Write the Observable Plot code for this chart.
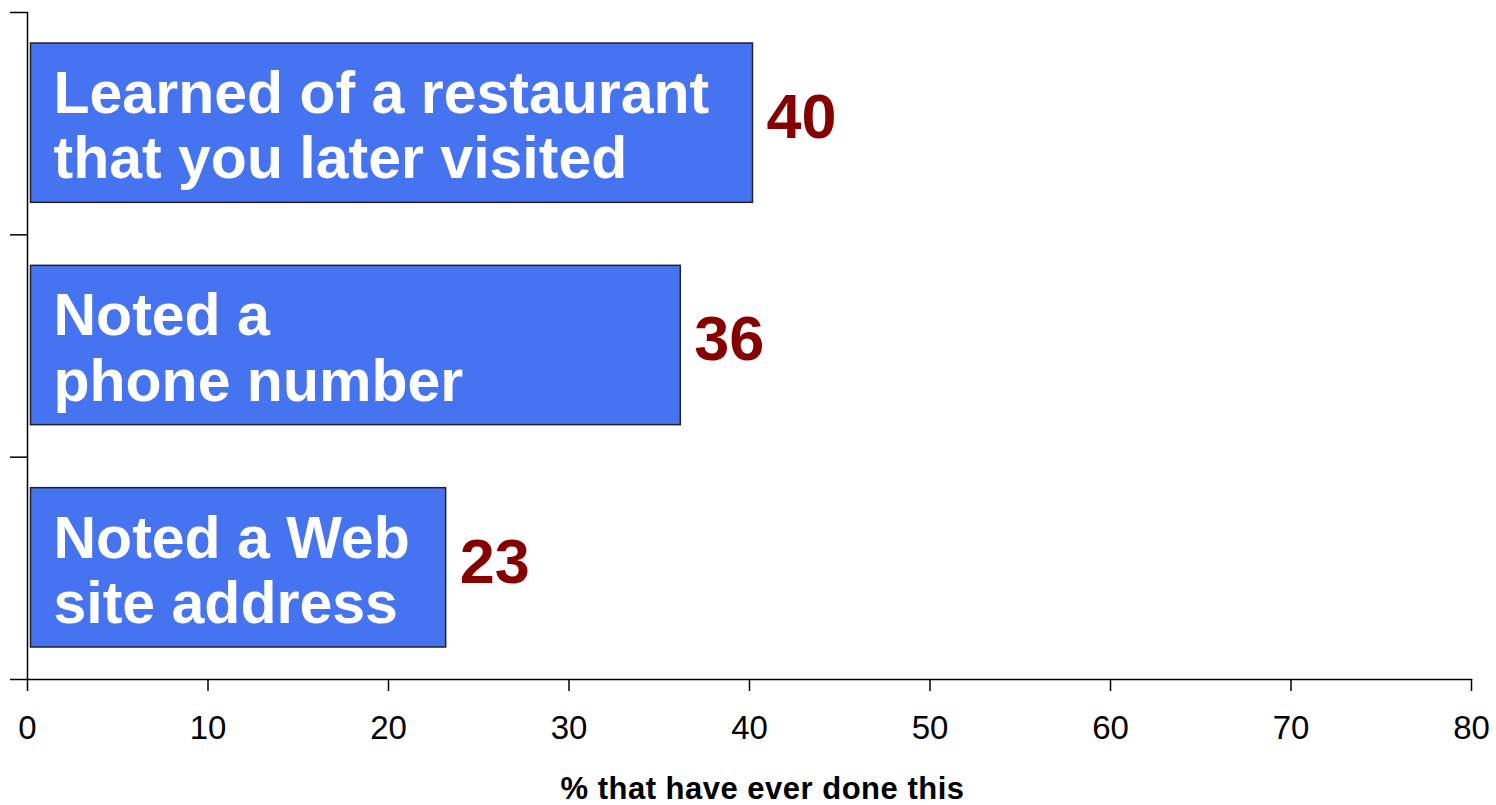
<!DOCTYPE html>
<html>
<head>
<meta charset="utf-8">
<script src="https://cdn.jsdelivr.net/npm/d3@7"></script>
<script src="https://cdn.jsdelivr.net/npm/@observablehq/plot@0.6"></script>
<style>
  html, body { margin: 0; padding: 0; background: white; }
  #chart svg [aria-label="x-axis label"] text { font-weight: bold; font-size: 31px; letter-spacing: 0.5px; }
  #chart svg [aria-label="x-axis label"] { translate: 13px 0; }
</style>
</head>
<body>
<div id="chart"></div>
<script>
const categories = [
  "Learned of a restaurant\nthat you later visited",
  "Noted a\nphone number",
  "Noted a Web\nsite address"
];
const values = [40, 36, 23];
const xTicks = [0, 10, 20, 30, 40, 50, 60, 70, 80];
const slotEdges = [0, 1, 2, 3];
const xTitle = "% that have ever done this";

const rows = categories.map((c, i) => ({label: c, value: values[i], slot: i}));

const chart = Plot.plot({
  width: 1496,
  height: 805,
  marginLeft: 27,
  marginRight: 25,
  marginTop: 12,
  marginBottom: 126,
  style: {fontFamily: "'Liberation Sans', Arial, sans-serif", background: "white", color: "black"},
  x: {domain: [0, 80]},
  y: {domain: [0, 3], reverse: true},
  marks: [
    Plot.rectX(rows, {
      x1: 0, x2: "value",
      y1: d => d.slot, y2: d => d.slot + 1,
      insetTop: 31, insetBottom: 32,
      dx: 3.5,
      fill: "#4673EF", stroke: "#222", strokeWidth: 1.5
    }),
    Plot.text(rows, {
      x: 0, y: d => d.slot + 0.5, text: "label",
      textAnchor: "start", lineAnchor: "middle",
      dx: 26, dy: 1, lineHeight: 1.11,
      fill: "white", fontSize: 59, fontWeight: "bold"
    }),
    Plot.text(rows, {
      x: "value", y: d => d.slot + 0.5, text: d => String(d.value),
      textAnchor: "start", lineAnchor: "middle",
      dx: 17, dy: -6,
      fill: "#850000", fontSize: 63, fontWeight: "bold"
    }),
    Plot.frame({anchor: "left", stroke: "black", strokeWidth: 1.5}),
    Plot.frame({anchor: "bottom", stroke: "black", strokeWidth: 1.5}),
    Plot.axisY({ticks: slotEdges, tickFormat: () => "", tickSize: 17, stroke: "black", strokeWidth: 1.5, label: null}),
    Plot.axisX({
      ticks: xTicks, tickSize: 12, tickPadding: 24, fontSize: 33,
      stroke: "black", strokeWidth: 1.5,
      label: xTitle, labelAnchor: "center", labelOffset: 119, labelArrow: "none"
    })
  ]
});
document.getElementById("chart").appendChild(chart);
</script>
</body>
</html>
